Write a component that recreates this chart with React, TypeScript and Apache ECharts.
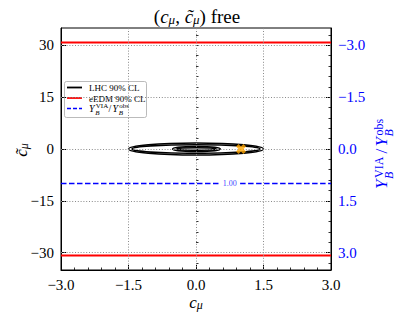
import React, { useEffect, useRef } from 'react';
import * as echarts from 'echarts';

// ---- data ----
const xRange = [-3, 3];
const xInterval = 1.5;
const yRange = [-35, 35];
const ratioRange = [-3.5, 3.5];
const yTicks = [-30, -15, 0, 15, 30];
const yMinorTicks = [-33, -30, -27, -24, -21, -18, -15, -12, -9, -6, -3, 0, 3, 6, 9, 12, 15, 18, 21, 24, 27, 30, 33];
const ratioTicks = [-3, -1.5, 0, 1.5, 3];
const ratioMinorTicks = [-3.3, -3.0, -2.7, -2.4, -2.1, -1.8, -1.5, -1.2, -0.9, -0.6, -0.3, 0, 0.3, 0.6, 0.9, 1.2, 1.5, 1.8, 2.1, 2.4, 2.7, 3.0, 3.3];
const gridX = [-1.5, 0, 1.5];
const gridY = [-30, -15, 0, 15, 30];

// LHC 90% CL contours: [c_mu centre, ctilde_mu centre, half-width, half-height]
const lhcContours = [
  [0, 0, 1.5, 1.72],
  [0, 0, 1.42, 1.2],
  [0.01, 0, 0.53, 0.72],
  [0.01, 0, 0.44, 0.36],
];
// eEDM 90% CL bounds on ctilde_mu
const eedmBounds = [30.8, -30.8];
// Y_B^VIA / Y_B^obs contour level (right axis) and its inline label
const ybLevel = 1.0;
const ybSegments = [
  [-3, 0.51],
  [0.98, 3],
];
const ybLabelX = 0.75;
const ybLabelText = '1.00';
// best-fit / SM point
const bestFit = [[1.0, 0]];

const SERIF = 'Liberation Serif, DejaVu Serif, serif';
const BLUE = '#0000ff';
const RED = '#ff0000';

const fmt = (v: number, d: number) => (v < 0 ? '\u2212' : '') + Math.abs(v).toFixed(d);

const xMarker = 'path://M0,2.6L2.6,0L5,2.4L7.4,0L10,2.6L7.6,5L10,7.4L7.4,10L5,7.6L2.6,10L0,7.4L2.4,5Z';

function mathRich(size: number, sub: number, color: string) {
  return {
    n: { fontSize: size, fontFamily: SERIF, lineHeight: size, fill: color },
    i: { fontSize: size, fontFamily: SERIF, fontStyle: 'italic', lineHeight: size, fill: color },
    s: { fontSize: sub, fontFamily: SERIF, fontStyle: 'italic', lineHeight: sub - 2, verticalAlign: 'bottom', fill: color },
  };
}

function scriptGroup(x: number, y: number, rotation: number, main: number, small: number, color: string) {
  // Y_B^{VIA} / Y_B^{obs}, laid out around a baseline through (0,0)
  const t = (tx: number, ty: number, text: string, size: number, italic: boolean) => ({
    type: 'text',
    x: tx,
    y: ty,
    style: {
      text,
      fontSize: size,
      lineHeight: size,
      fontFamily: SERIF,
      fontStyle: italic ? 'italic' : 'normal',
      fill: color,
      verticalAlign: 'middle',
      align: 'left',
    },
  });
  return {
    type: 'group',
    x,
    y,
    rotation,
    z: 100,
    children: [
      t(-38.5, -6, 'Y', main, true),
      t(-27.5, -8.5, 'VIA', small, false),
      t(-28.5, 1.5, 'B', small, true),
      t(-3, -6, '/', main, false),
      t(4, -6, 'Y', main, true),
      t(15, -8.5, 'obs', small, false),
      t(14, 1.5, 'B', small, true),
    ],
  };
}

const axisBase = {
  type: 'value' as const,
  axisLine: { show: true, onZero: false, lineStyle: { color: '#000', width: 1 } },
  splitLine: { show: false },
};

const tickLabel = (color: string) => ({
  color,
  fontFamily: SERIF,
  fontSize: 15,
  lineHeight: 14,
});

const legendText = (text: string, size: number, italic: boolean) => ({
  text,
  fontSize: size,
  lineHeight: size,
  fontStyle: italic ? 'italic' : 'normal',
  fontFamily: SERIF,
  fill: '#000',
  verticalAlign: 'middle',
});

const option: any = {
  animation: false,
  backgroundColor: '#fff',
  grid: {
    left: 61,
    top: 28,
    width: 270,
    height: 242,
    show: true,
    borderColor: '#000',
    borderWidth: 1,
    backgroundColor: 'transparent',
  },
  xAxis: [
    {
      ...axisBase,
      position: 'bottom',
      min: xRange[0],
      max: xRange[1],
      interval: xInterval,
      axisTick: { show: true, inside: true, length: 5, lineStyle: { color: '#000', width: 1 } },
      minorTick: { show: true, splitNumber: 5, length: 2.5, lineStyle: { color: '#000', width: 0.8 } },
      axisLabel: { ...tickLabel('#000'), margin: 8, formatter: (v: number) => fmt(v, 1) },
    },
  ],
  yAxis: [
    {
      ...axisBase,
      position: 'left',
      min: yRange[0],
      max: yRange[1],
      axisTick: { show: true, inside: true, length: 5, customValues: yTicks, lineStyle: { color: '#000', width: 1 } },
      axisLabel: { ...tickLabel('#000'), margin: 7, customValues: yTicks, formatter: (v: number) => fmt(v, 0) },
    },
    {
      ...axisBase,
      position: 'left',
      min: yRange[0],
      max: yRange[1],
      axisLine: { show: false },
      axisTick: { show: true, inside: true, length: 2.5, customValues: yMinorTicks, lineStyle: { color: '#000', width: 0.8 } },
      axisLabel: { show: false },
    },
    {
      ...axisBase,
      position: 'right',
      min: ratioRange[0],
      max: ratioRange[1],
      inverse: true,
      axisTick: { show: true, inside: true, length: 5, customValues: ratioTicks, lineStyle: { color: '#000', width: 1 } },
      axisLabel: { ...tickLabel(BLUE), margin: 7, customValues: ratioTicks, formatter: (v: number) => fmt(v, 1) },
    },
    {
      ...axisBase,
      position: 'right',
      min: ratioRange[0],
      max: ratioRange[1],
      inverse: true,
      axisLine: { show: false },
      axisTick: { show: true, inside: true, length: 2.5, customValues: ratioMinorTicks, lineStyle: { color: '#000', width: 0.8 } },
      axisLabel: { show: false },
    },
  ],
  series: [
    {
      name: 'grid',
      type: 'line',
      xAxisIndex: 0,
      yAxisIndex: 0,
      data: [],
      z: 1,
      silent: true,
      markLine: {
        silent: true,
        symbol: ['none', 'none'],
        label: { show: false },
        lineStyle: { type: [1, 1.8], color: '#8a8a8a', width: 1 },
        data: [...gridY.map((v) => ({ yAxis: v })), ...gridX.map((v) => ({ xAxis: v }))],
      },
    },
    {
      name: 'LHC 90% CL',
      type: 'custom',
      xAxisIndex: 0,
      yAxisIndex: 0,
      z: 3,
      data: lhcContours,
      encode: { x: 0, y: 1 },
      renderItem: (_params: any, api: any) => {
        const c = api.coord([api.value(0), api.value(1)]);
        const s = api.size([api.value(2), api.value(3)]);
        return {
          type: 'ellipse',
          shape: { cx: c[0], cy: c[1], rx: s[0], ry: s[1] },
          style: { fill: 'none', stroke: '#000', lineWidth: 1.5 },
        };
      },
    },
    ...eedmBounds.map((b) => ({
      name: 'eEDM 90% CL',
      type: 'line',
      xAxisIndex: 0,
      yAxisIndex: 0,
      z: 4,
      showSymbol: false,
      data: [
        [xRange[0], b],
        [xRange[1], b],
      ],
      lineStyle: { color: RED, width: 1.8 },
    })),
    ...ybSegments.map((seg) => ({
      name: 'Y_B ratio',
      type: 'line',
      xAxisIndex: 0,
      yAxisIndex: 2,
      z: 4,
      showSymbol: false,
      data: [
        [seg[0], ybLevel],
        [seg[1], ybLevel],
      ],
      lineStyle: { color: BLUE, width: 1.5, type: [5.5, 2.5] },
    })),
    {
      name: 'Y_B label',
      type: 'scatter',
      xAxisIndex: 0,
      yAxisIndex: 2,
      z: 5,
      symbolSize: 1,
      itemStyle: { color: 'transparent' },
      data: [[ybLabelX, ybLevel]],
      label: {
        show: true,
        position: 'inside',
        formatter: ybLabelText,
        color: BLUE,
        fontSize: 8,
        fontFamily: SERIF,
      },
    },
    {
      name: 'best fit',
      type: 'scatter',
      xAxisIndex: 0,
      yAxisIndex: 0,
      z: 10,
      symbol: xMarker,
      symbolSize: 10,
      itemStyle: { color: '#ffa500' },
      data: bestFit,
    },
  ],
  graphic: [
    // title
    {
      type: 'text',
      x: 197,
      y: 16,
      z: 100,
      style: {
        text: '{n|(}{i|c}{s|\u03bc}{n|, }{i|c\u0303}{s|\u03bc}{n|) free}',
        align: 'center',
        verticalAlign: 'middle',
        rich: mathRich(19, 13, '#000'),
      },
    },
    // x axis name
    {
      type: 'text',
      x: 196,
      y: 302,
      z: 100,
      style: {
        text: '{i|c}{s|\u03bc}',
        align: 'center',
        verticalAlign: 'middle',
        rich: mathRich(17, 12, '#000'),
      },
    },
    // y axis name
    {
      type: 'text',
      x: 21,
      y: 150,
      rotation: Math.PI / 2,
      z: 100,
      style: {
        text: '{i|c\u0303}{s|\u03bc}',
        align: 'center',
        verticalAlign: 'middle',
        rich: mathRich(17, 12, '#000'),
      },
    },
    // right axis name
    scriptGroup(387, 150.5, Math.PI / 2, 17, 12, BLUE),
    // legend
    {
      type: 'group',
      z: 100,
      children: [
        {
          type: 'rect',
          shape: { x: 64.5, y: 81.5, width: 82, height: 36, r: 2 },
          style: { fill: 'rgba(255,255,255,0.85)', stroke: '#aaaaaa', lineWidth: 0.8 },
        },
        { type: 'line', shape: { x1: 67, y1: 87.5, x2: 82, y2: 87.5 }, style: { stroke: '#000', lineWidth: 1.8 } },
        { type: 'line', shape: { x1: 67, y1: 98, x2: 82, y2: 98 }, style: { stroke: RED, lineWidth: 1.8 } },
        { type: 'line', shape: { x1: 67, y1: 108.5, x2: 82, y2: 108.5 }, style: { stroke: BLUE, lineWidth: 1.5, lineDash: [4, 2] } },
        { type: 'text', x: 89, y: 88, style: legendText('LHC 90% CL', 9, false) },
        { type: 'text', x: 89, y: 98.5, style: legendText('eEDM 90% CL', 9, false) },
        {
          type: 'group',
          x: 89,
          y: 111.5,
          children: [
            { type: 'text', x: 0, y: -3.2, style: legendText('Y', 10, true) },
            { type: 'text', x: 6.8, y: -5.5, style: legendText('VIA', 7, false) },
            { type: 'text', x: 6.2, y: 1.5, style: legendText('B', 7, true) },
            { type: 'text', x: 19.5, y: -3.2, style: legendText('/', 10, false) },
            { type: 'text', x: 23.5, y: -3.2, style: legendText('Y', 10, true) },
            { type: 'text', x: 30.3, y: -5.5, style: legendText('obs', 7, false) },
            { type: 'text', x: 29.7, y: 1.5, style: legendText('B', 7, true) },
          ],
        },
      ],
    },
  ],
};

export default function App() {
  const ref = useRef<HTMLDivElement>(null);
  useEffect(() => {
    const chart = echarts.init(ref.current!, null, { renderer: 'svg' });
    chart.setOption(option);
    return () => chart.dispose();
  }, []);
  return (
    <div
      ref={ref}
      style={{ position: 'fixed', left: 0, top: 0, width: 399, height: 317, background: '#fff' }}
    />
  );
}
